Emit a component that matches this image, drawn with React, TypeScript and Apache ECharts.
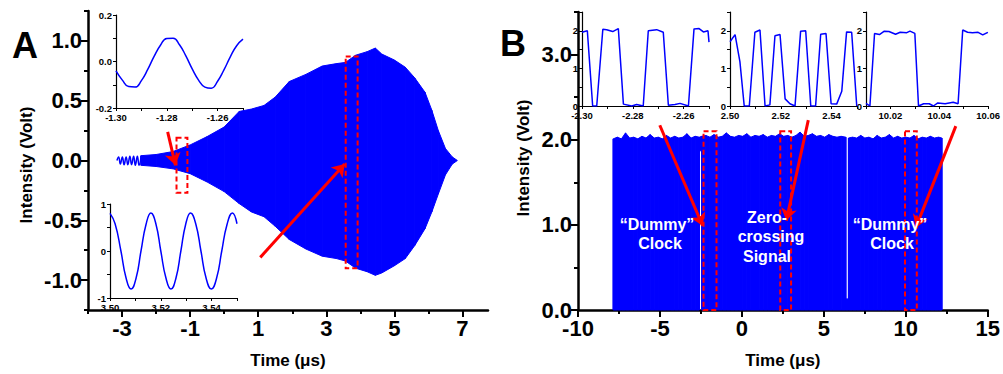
import React, { useEffect, useRef } from 'react';
import * as echarts from 'echarts';

const BLUE = '#0000ff';
const RED = '#ff0000';
const FONT = '"Liberation Sans", Arial, Helvetica, sans-serif';

// ---------- Panel A : main trace envelope ----------
const aTime = [-2.45, -2.0, -1.5, -1.0, -0.5, 0.0, 0.44, 0.8, 1.17, 1.5, 1.91, 2.4, 2.88, 3.3, 3.56, 3.86, 4.2, 4.44, 4.63, 5.0, 5.32, 5.6, 5.9, 6.1, 6.29, 6.5, 6.7, 6.85];
const aUpper = [0.04, 0.05, 0.075, 0.13, 0.2, 0.28, 0.41, 0.43, 0.46, 0.53, 0.66, 0.72, 0.79, 0.81, 0.82, 0.88, 0.91, 0.94, 0.89, 0.84, 0.78, 0.69, 0.57, 0.42, 0.25, 0.1, 0.03, 0.0];
const aLower = [-0.04, -0.05, -0.07, -0.11, -0.18, -0.26, -0.36, -0.43, -0.47, -0.55, -0.66, -0.74, -0.8, -0.82, -0.84, -0.9, -0.93, -0.96, -0.94, -0.88, -0.82, -0.71, -0.57, -0.43, -0.28, -0.12, -0.03, 0.0];
// early visible wiggle
const aWiggleTime = [-3.15, -3.1, -3.05, -2.99, -2.94, -2.88, -2.83, -2.77, -2.72, -2.66, -2.61, -2.55, -2.5, -2.44];
const aWiggleVal = [0.0, 0.03, -0.03, 0.03, -0.035, 0.03, -0.035, 0.035, -0.035, 0.035, -0.04, 0.035, -0.04, 0.04];

// Panel A insets
const a1Time = [-1.3, -1.2975, -1.295, -1.2925, -1.29, -1.2875, -1.285, -1.2825, -1.28, -1.2775, -1.275, -1.2725, -1.27, -1.2675, -1.265, -1.2625, -1.26, -1.2575, -1.255, -1.2525, -1.25];
const a1Val = [-0.04, -0.08, -0.108, -0.11, -0.082, -0.034, 0.022, 0.07, 0.099, 0.1, 0.072, 0.024, -0.032, -0.08, -0.11, -0.115, -0.085, -0.036, 0.02, 0.068, 0.096];
const a2Time = [3.5, 3.502, 3.5043, 3.5063, 3.5083, 3.5103, 3.5122, 3.5142, 3.5161, 3.5181, 3.52, 3.522, 3.524, 3.526, 3.5279, 3.5298, 3.5317, 3.5338, 3.5358, 3.5378, 3.5399, 3.542, 3.544, 3.5461, 3.5482, 3.55];
const a2Val = [0.8, 0.58, 0.0, -0.57, -0.81, -0.57, 0.0, 0.57, 0.81, 0.57, 0.0, -0.57, -0.81, -0.57, 0.0, 0.57, 0.81, 0.57, 0.0, -0.57, -0.81, -0.57, 0.0, 0.57, 0.81, 0.58];

// Panel A annotations (data coordinates)
const aRects = [[-1.4, 0.19, -1.08, -0.27], [3.57, 0.87, 3.92, -0.9]];
const aArrows = [[-1.66, 0.24, -1.43, -0.04], [1.06, -0.81, 3.54, -0.03]];

// ---------- Panel B : main trace envelope ----------
const bTime = [-7.85, -7.85, -7.6, -7.35, -7.1, -6.85, -6.6, -6.35, -6.1, -5.85, -5.6, -5.35, -5.1, -4.85, -4.6, -4.35, -4.1, -3.85, -3.6, -3.35, -3.1, -2.85, -2.6, -2.6, -2.45, -2.45, -2.2, -1.95, -1.7, -1.45, -1.2, -0.95, -0.7, -0.45, -0.2, 0.05, 0.3, 0.55, 0.8, 1.05, 1.3, 1.55, 1.8, 2.05, 2.3, 2.55, 2.8, 3.05, 3.3, 3.55, 3.8, 4.05, 4.3, 4.55, 4.8, 5.05, 5.3, 5.55, 5.8, 6.05, 6.34, 6.34, 6.5, 6.5, 6.75, 7.0, 7.25, 7.5, 7.75, 8.0, 8.25, 8.5, 8.75, 9.0, 9.25, 9.5, 9.75, 10.0, 10.25, 10.5, 10.75, 11.0, 11.25, 11.5, 11.75, 12.0, 12.2, 12.2];
const bUpper = [0, 2.01, 2.03, 2.01, 2.08, 2.02, 2.03, 2.01, 2.04, 2.02, 2.06, 2.02, 2.03, 2.01, 2.05, 2.02, 2.04, 2.02, 2.03, 2.07, 2.02, 2.04, 2.03, 2.03, 2.04, 2.04, 2.05, 2.03, 2.06, 2.03, 2.04, 2.08, 2.04, 2.03, 2.05, 2.04, 2.07, 2.03, 2.05, 2.04, 2.06, 2.03, 2.05, 2.04, 2.07, 2.04, 2.05, 2.03, 2.05, 2.09, 2.04, 2.05, 2.07, 2.04, 2.05, 2.03, 2.06, 2.04, 2.03, 2.04, 2.03, 0.13, 0.13, 2.02, 2.03, 2.02, 2.05, 2.02, 2.03, 2.01, 2.05, 2.02, 2.03, 2.06, 2.02, 2.04, 2.02, 2.03, 2.02, 2.05, 2.01, 2.03, 2.02, 2.04, 2.02, 2.03, 2.02, 0];
const bLower = [0, 0, 0, 0, 0, 0, 0, 0, 0, 0, 0, 0, 0, 0, 0, 0, 0, 0, 0, 0, 0, 0, 0, 1.87, 1.87, 0, 0, 0, 0, 0, 0, 0, 0, 0, 0, 0, 0, 0, 0, 0, 0, 0, 0, 0, 0, 0, 0, 0, 0, 0, 0, 0, 0, 0, 0, 0, 0, 0, 0, 0, 0, 0, 0, 0, 0, 0, 0, 0, 0, 0, 0, 0, 0, 0, 0, 0, 0, 0, 0, 0, 0, 0, 0, 0, 0, 0, 0, 0];

// Panel B insets
const b1Time = [-2.3, -2.2979, -2.2958, -2.2942, -2.2918, -2.2903, -2.2879, -2.2857, -2.2837, -2.2804, -2.2785, -2.2759, -2.2739, -2.2706, -2.268, -2.266, -2.2634, -2.2614, -2.2581, -2.2559, -2.2539, -2.2522, -2.2504, -2.25];
const b1Val = [1.96, 2.0, 0, 0, 2.04, 2.03, 1.98, 2.06, 0.05, 0, 0.04, 0, 2.0, 2.03, 1.96, 0.02, 0.04, 0.07, 0, 2.05, 2.06, 1.97, 2.0, 1.7];
const b2Time = [2.5, 2.502, 2.5039, 2.5056, 2.5076, 2.5098, 2.5118, 2.5138, 2.5157, 2.5177, 2.5197, 2.5217, 2.5236, 2.5256, 2.5278, 2.5298, 2.5318, 2.5337, 2.5357, 2.5378, 2.5398, 2.542, 2.544, 2.5459, 2.5479, 2.5499];
const b2Val = [1.71, 1.9, 1.18, 0, 0, 1.96, 2.02, 0, 0.03, 1.87, 1.9, 0.19, 0.06, 0, 1.99, 2.0, 0, 0, 1.91, 1.93, 0.06, 0.05, 0.39, 1.97, 1.96, 0];
const b3Time = [10.01, 10.0116, 10.0135, 10.0155, 10.0175, 10.0194, 10.0221, 10.024, 10.0267, 10.028, 10.03, 10.0315, 10.0336, 10.0359, 10.0376, 10.0394, 10.0424, 10.0457, 10.0477, 10.0496, 10.0516, 10.0536, 10.0559, 10.0578, 10.0599];
const b3Val = [0.07, 0, 1.93, 1.9, 1.99, 1.98, 1.91, 1.96, 1.95, 1.99, 1.93, 0, 0.06, 0.06, 0, 0.08, 0.06, 0.1, 0.06, 2.02, 1.96, 1.95, 1.96, 1.89, 1.96];

// Panel B annotations (data coordinates)
const bRects = [[-2.34, 2.1, -1.55, -0.07], [2.34, 2.1, 3.0, -0.07], [9.95, 2.1, 10.67, -0.07]];
const bArrows = [[-5.01, 2.17, -2.4, 0.99], [4.05, 2.23, 2.71, 1.05], [13.05, 2.16, 10.62, 0.97]];

// Tick values
const aXMajor = [-3, -1, 1, 3, 5, 7];
const aXMinor = [-4, -2, 0, 2, 4, 6];
const aYMajor = [-1, -0.5, 0, 0.5, 1];
const aYMinor = [-1.25, -0.75, -0.25, 0.25, 0.75, 1.25];
const bXMajor = [-10, -5, 0, 5, 10, 15];
const bXMinor = [-7.5, -2.5, 2.5, 7.5, 12.5];
const bYMajor = [0, 1, 2, 3];
const bYMinor = [0.5, 1.5, 2.5, 3.5];

const pairs = (xs: number[], ys: number[]) => xs.map((x, i) => [x, ys[i]]);

function mainAxis(grid: number, pos: string, min: number, max: number, major: number[], fmt: (v: number) => string, extra: any = {}) {
  return {
    type: 'value', gridIndex: grid, position: pos, min, max,
    axisLine: { show: true, onZero: false, lineStyle: { color: '#000', width: 2.5 } },
    axisTick: { show: true, customValues: major, length: 7, lineStyle: { color: '#000', width: 2 } },
    axisLabel: { show: true, customValues: major, formatter: fmt, color: '#000', fontSize: 22, fontWeight: 'bold', fontFamily: FONT, margin: 7 },
    splitLine: { show: false },
    ...extra,
  };
}
function minorAxis(grid: number, pos: string, min: number, max: number, minor: number[]) {
  return {
    type: 'value', gridIndex: grid, position: pos, offset: 0, min, max,
    axisLine: { show: false, onZero: false },
    axisTick: { show: true, customValues: minor, length: 4, lineStyle: { color: '#000', width: 2 } },
    axisLabel: { show: false },
    splitLine: { show: false },
  };
}
function insetAxis(grid: number, pos: string, min: number, max: number, step: number, every: number, digits: number) {
  return {
    type: 'value', gridIndex: grid, position: pos, min, max, interval: step,
    axisLine: { show: true, onZero: false, lineStyle: { color: '#000', width: 1.2 } },
    axisTick: { show: true, length: 3, lineStyle: { color: '#000', width: 1 } },
    axisLabel: {
      show: true, margin: 4, color: '#000', fontSize: 9.5, fontWeight: 'bold', fontFamily: FONT,
      showMinLabel: true, showMaxLabel: true,
      formatter: (v: number) => { const k = Math.round(v / step); return Math.abs(k % every) === 0 ? v.toFixed(digits) : ''; },
    },
    splitLine: { show: false },
  };
}

// Filled band between a lower and an upper envelope, drawn through the axes' scales
function bandSeries(axisIndex: number, ts: number[], lo: number[], up: number[]) {
  const data = ts.slice(0, -1).map((t, i) => [t, lo[i], up[i], ts[i + 1], lo[i + 1], up[i + 1]]);
  return {
    type: 'custom', xAxisIndex: axisIndex, yAxisIndex: axisIndex, silent: true, z: 2,
    encode: { x: [0, 3], y: [1, 2, 4, 5] },
    data,
    renderItem: (_params: any, api: any) => {
      const p1 = api.coord([api.value(0), api.value(1)]);
      const p2 = api.coord([api.value(0), api.value(2)]);
      const p3 = api.coord([api.value(3), api.value(5)]);
      const p4 = api.coord([api.value(3), api.value(4)]);
      return { type: 'polygon', shape: { points: [p1, p2, p3, p4] }, style: { fill: BLUE, stroke: BLUE, lineWidth: 1 } };
    },
  };
}

function segData(r: number[][]) {
  return r.map(([x1, y1, x2, y2]) => [{ coord: [x1, y1] }, { coord: [x2, y2] }]);
}
const markAreaStyle = { color: 'rgba(0,0,0,0)', borderColor: RED, borderWidth: 2, borderType: [5, 3] };
const markLineStyle = { color: RED, width: 3, type: 'solid' };

function txt(text: string, x: number, y: number, size: number, fill = '#000', rotation = 0, align = 'center') {
  return {
    type: 'text', x, y, rotation, z: 100,
    style: {
      text, fill, fontSize: size, fontWeight: 'bold', fontFamily: FONT,
      align, verticalAlign: 'middle', textAlign: align, textVerticalAlign: 'middle',
    },
  };
}

function buildOption(): any {
  const fmt1 = (v: number) => v.toFixed(1);
  const fmt0 = (v: number) => String(v);
  const xName = { name: 'Time (μs)', nameLocation: 'middle', nameGap: 42, nameTextStyle: { fontSize: 17, fontWeight: 'bold', color: '#000', fontFamily: FONT } };
  const yLab = (major: number[]) => ({ axisLabel: { show: true, customValues: major, formatter: fmt1, color: '#000', fontSize: 22, fontWeight: 'bold', fontFamily: FONT, margin: 6 } });
  return {
    animation: false,
    textStyle: { fontFamily: FONT },
    grid: [
      { left: 88, top: 11, width: 400, height: 305 },
      { left: 116, top: 15, width: 127, height: 93 },
      { left: 110, top: 204, width: 127, height: 94 },
      { left: 578, top: 12, width: 411, height: 304 },
      { left: 582, top: 12, width: 127, height: 94 },
      { left: 730, top: 12, width: 127, height: 94 },
      { left: 866, top: 12, width: 127, height: 94 },
    ],
    xAxis: [
      mainAxis(0, 'bottom', -4, 7.75, aXMajor, fmt0, xName),
      minorAxis(0, 'bottom', -4, 7.75, aXMinor),
      insetAxis(1, 'bottom', -1.3, -1.25, 0.01, 2, 2),
      insetAxis(2, 'bottom', 3.5, 3.55, 0.01, 2, 2),
      mainAxis(3, 'bottom', -10, 15, bXMajor, fmt0, xName),
      minorAxis(3, 'bottom', -10, 15, bXMinor),
      insetAxis(4, 'bottom', -2.3, -2.25, 0.01, 2, 2),
      insetAxis(5, 'bottom', 2.5, 2.55, 0.01, 2, 2),
      insetAxis(6, 'bottom', 10.01, 10.06, 0.01, 2, 2),
    ],
    yAxis: [
      mainAxis(0, 'left', -1.25, 1.25, aYMajor, fmt1, yLab(aYMajor)),
      minorAxis(0, 'left', -1.25, 1.25, aYMinor),
      insetAxis(1, 'left', -0.2, 0.2, 0.1, 2, 1),
      insetAxis(2, 'left', -1, 1, 0.5, 2, 0),
      mainAxis(3, 'left', 0, 3.5, bYMajor, fmt1, yLab(bYMajor)),
      minorAxis(3, 'left', 0, 3.5, bYMinor),
      insetAxis(4, 'left', 0, 2.5, 0.5, 2, 0),
      insetAxis(5, 'left', 0, 2.5, 0.5, 2, 0),
      insetAxis(6, 'left', 0, 2.5, 0.5, 2, 0),
    ],
    series: [
      bandSeries(0, aTime, aLower, aUpper),
      {
        type: 'line', xAxisIndex: 0, yAxisIndex: 0, data: pairs(aWiggleTime, aWiggleVal), smooth: true, symbol: 'none', showSymbol: false, lineStyle: { color: BLUE, width: 1.5 }, silent: true, clip: false, z: 5,
        markArea: { silent: true, z: 10, itemStyle: markAreaStyle, data: segData(aRects) },
        markLine: { silent: true, z: 10, symbol: ['none', 'arrow'], symbolSize: 12, lineStyle: markLineStyle, label: { show: false }, data: segData(aArrows) },
      },
      { type: 'line', xAxisIndex: 2, yAxisIndex: 2, data: pairs(a1Time, a1Val), smooth: true, symbol: 'none', showSymbol: false, lineStyle: { color: BLUE, width: 1.5 }, silent: true },
      { type: 'line', xAxisIndex: 3, yAxisIndex: 3, data: pairs(a2Time, a2Val), smooth: true, symbol: 'none', showSymbol: false, lineStyle: { color: BLUE, width: 1.5 }, silent: true },
      bandSeries(4, bTime, bLower, bUpper),
      {
        type: 'line', xAxisIndex: 4, yAxisIndex: 4, data: [], symbol: 'none', silent: true, clip: false, z: 5,
        markArea: { silent: true, z: 10, itemStyle: markAreaStyle, data: segData(bRects) },
        markLine: { silent: true, z: 10, symbol: ['none', 'arrow'], symbolSize: 12, lineStyle: markLineStyle, label: { show: false }, data: segData(bArrows) },
      },
      { type: 'line', xAxisIndex: 6, yAxisIndex: 6, data: pairs(b1Time, b1Val), symbol: 'none', showSymbol: false, lineStyle: { color: BLUE, width: 1.5 }, silent: true },
      { type: 'line', xAxisIndex: 7, yAxisIndex: 7, data: pairs(b2Time, b2Val), symbol: 'none', showSymbol: false, lineStyle: { color: BLUE, width: 1.5 }, silent: true },
      { type: 'line', xAxisIndex: 8, yAxisIndex: 8, data: pairs(b3Time, b3Val), symbol: 'none', showSymbol: false, lineStyle: { color: BLUE, width: 1.5 }, silent: true },
    ],
    graphic: [
      txt('A', 12, 45, 36, '#000', 0, 'left'),
      txt('B', 500, 43, 36, '#000', 0, 'left'),
      txt('Intensity (Volt)', 26, 165, 17, '#000', Math.PI / 2),
      txt('Intensity (Volt)', 523, 158, 17, '#000', Math.PI / 2),
      txt('\u201CDummy\u201D', 657, 224, 16, '#fff'),
      txt('Clock', 660, 243, 16, '#fff'),
      txt('Zero-', 767, 217, 16, '#fff'),
      txt('crossing', 771, 236, 16, '#fff'),
      txt('Signal', 767, 256, 16, '#fff'),
      txt('\u201CDummy\u201D', 890, 224, 16, '#fff'),
      txt('Clock', 892, 243, 16, '#fff'),
    ],
  };
}

export default function App() {
  const ref = useRef<HTMLDivElement>(null);
  useEffect(() => {
    document.body.style.margin = '0';
    if (!ref.current) return;
    const chart = echarts.init(ref.current, undefined, { renderer: 'svg' });
    chart.setOption(buildOption());
    return () => chart.dispose();
  }, []);
  return <div ref={ref} style={{ width: 1003, height: 374 }} />;
}
